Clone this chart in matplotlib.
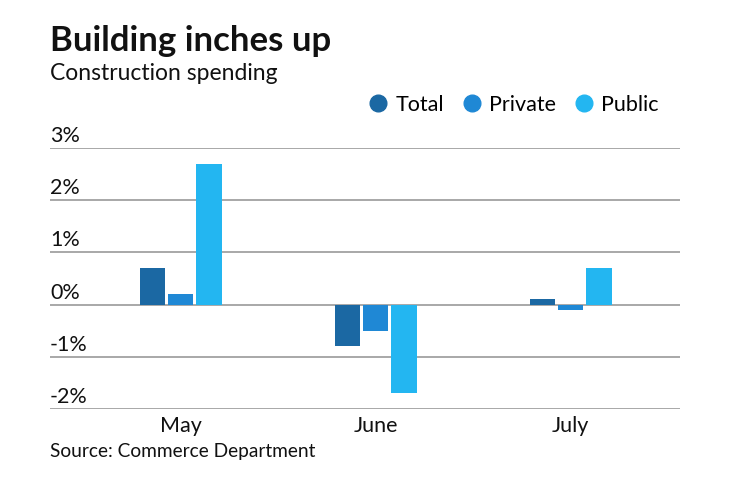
import matplotlib
matplotlib.use("Agg")
import matplotlib.pyplot as plt
from matplotlib.lines import Line2D
import matplotlib.transforms as mtrans
import numpy as np

plt.rcParams['font.family'] = ['Lato', 'DejaVu Sans']

months = ["May", "June", "July"]
series = ["Total", "Private", "Public"]
total = [0.7, -0.8, 0.1]
private = [0.2, -0.5, -0.1]
public = [2.7, -1.7, 0.7]
colors = ["#1b68a3", "#1f88d5", "#23b6f1"]
yticks = [-2, -1, 0, 1, 2, 3]
ytick_labels = ["-2%", "-1%", "0%", "1%", "2%", "3%"]

fig = plt.figure(figsize=(7.4, 4.82), dpi=100)
ax = fig.add_axes([50/740, 1-409/482, 630/740, (409-148)/482])

x = np.arange(len(months))
w = 0.13
step = 0.145
for i, (vals, c) in enumerate(zip([total, private, public], colors)):
    ax.bar(x + (i-1)*step, vals, width=w, color=c, zorder=3)

ax.set_ylim(-2, 3)
ax.set_xlim(-0.67, 2.56)
for v in yticks:
    ax.axhline(v, color="#9a9a9a", lw=1.2, zorder=1)
trans = mtrans.blended_transform_factory(ax.transAxes, ax.transData)
for v, lab in zip(yticks, ytick_labels):
    ax.text(0.0, v + 0.04, lab, transform=trans, ha='left', va='bottom',
            fontsize=15.5, color="#111111")
ax.set_yticks([])
ax.set_xticks(x)
ax.set_xticklabels(months, fontsize=15.5, color="#111111")
ax.tick_params(axis='x', length=0, pad=5)
for s in ax.spines.values():
    s.set_visible(False)

fig.text(50/740, 1-25/482, "Building inches up", fontsize=25, fontweight='bold',
         ha='left', va='top', color="#111111")
fig.text(50/740, 1-63/482, "Construction spending", fontsize=16.5,
         ha='left', va='top', color="#111111")
fig.text(50/740, 1-451/482, "Source: Commerce Department", fontsize=13.8,
         ha='left', va='center', color="#111111")

handles = [Line2D([0], [0], marker='o', linestyle='none', markersize=12,
                  markerfacecolor=c, markeredgecolor=c) for c in colors]
fig.legend(handles, series, loc='center right', bbox_to_anchor=(678/740, 1-105/482),
           ncol=3, frameon=False, fontsize=15.5, handletextpad=0.3, columnspacing=0.8,
           handlelength=1.0)

fig.savefig("out.png", dpi=100)
